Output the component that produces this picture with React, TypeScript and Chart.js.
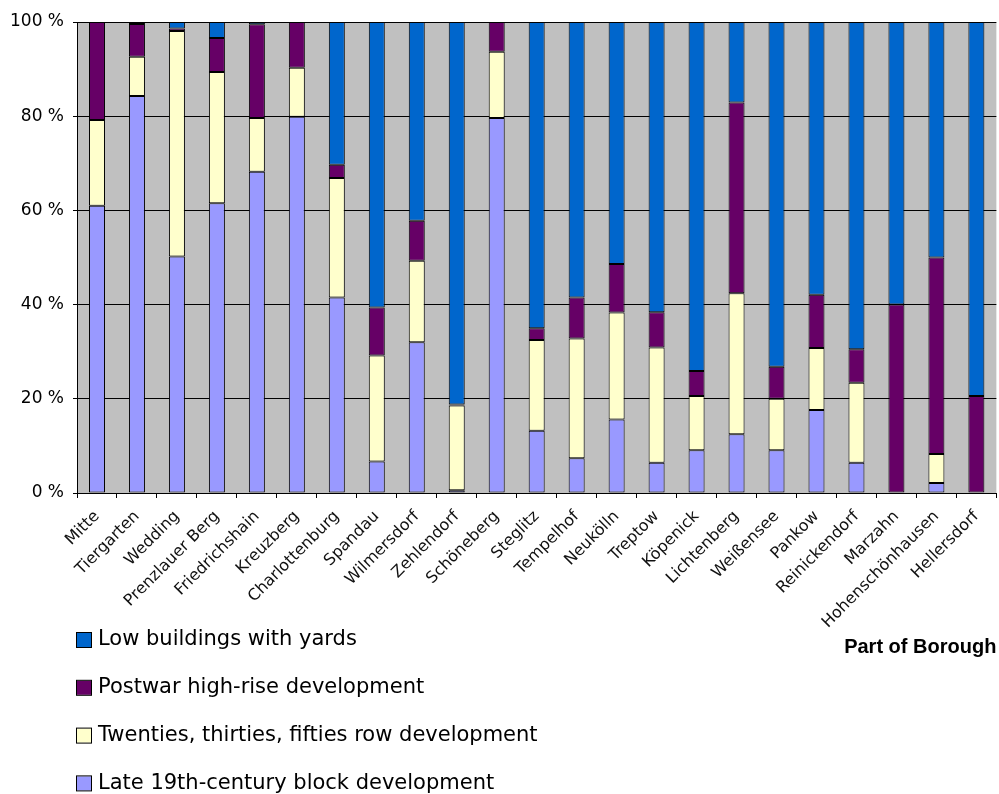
import React, { useEffect, useRef } from "react";
import { Chart, registerables } from "chart.js";

Chart.register(...registerables);

const categories = [
  "Mitte", "Tiergarten", "Wedding", "Prenzlauer Berg", "Friedrichshain", "Kreuzberg",
  "Charlottenburg", "Spandau", "Wilmersdorf", "Zehlendorf", "Schöneberg", "Steglitz",
  "Tempelhof", "Neukölln", "Treptow", "Köpenick", "Lichtenberg", "Weißensee", "Pankow",
  "Reinickendorf", "Marzahn", "Hohenschönhausen", "Hellersdorf",
];

const late19 = [61, 84.3, 50.2, 61.5, 68.2, 79.9, 41.5, 6.7, 32, 0.6, 79.6, 13.2, 7.4, 15.6, 6.4, 9.1, 12.5, 9.1, 17.6, 6.4, 0, 2.1, 0];
const twenties = [18.2, 8.3, 47.9, 27.9, 11.4, 10.4, 25.4, 22.5, 17.3, 18, 14.1, 19.3, 25.4, 22.7, 24.5, 11.5, 29.9, 10.9, 13.2, 17, 0, 6.2, 0];
const postwar = [20.8, 7, 0.5, 7.2, 19.9, 9.7, 2.8, 10.2, 8.5, 0.2, 6.3, 2.5, 8.7, 10.3, 7.5, 5.3, 40.5, 6.8, 11.3, 7.1, 40, 41.7, 20.6];
const low = [0, 0.4, 1.4, 3.4, 0.5, 0, 30.3, 60.6, 42.2, 81.2, 0, 65, 58.5, 51.4, 61.6, 74.1, 17.1, 73.2, 57.9, 69.5, 60, 50, 79.4];

const seriesLabels = [
  "Late 19th-century block development",
  "Twenties, thirties, fifties row development",
  "Postwar high-rise development",
  "Low buildings with yards",
];
const seriesColors = ["#9999FF", "#FFFFCC", "#660066", "#0066CC"];
const xTitle = "Part of Borough";
const yMax = 100;
const yStep = 20;

const plotBg = {
  id: "plotBg",
  beforeDraw(chart: any) {
    const { ctx, chartArea } = chart;
    ctx.save();
    ctx.fillStyle = "#C0C0C0";
    ctx.fillRect(chartArea.left, chartArea.top, chartArea.right - chartArea.left, chartArea.bottom - chartArea.top);
    ctx.restore();
  },
};

const vLegend = {
  id: "vLegend",
  afterDraw(chart: any) {
    const { ctx } = chart;
    const ds = chart.data.datasets.slice().reverse();
    ctx.save();
    ctx.font = '21px "DejaVu Sans"';
    ctx.textBaseline = "middle";
    ctx.textAlign = "left";
    ds.forEach((d: any, i: number) => {
      const y = 640 + i * 47.8;
      ctx.fillStyle = d.backgroundColor;
      ctx.fillRect(77, y - 7, 14, 14);
      ctx.strokeStyle = "#000";
      ctx.lineWidth = 1;
      ctx.strokeRect(76.5, y - 7.5, 15, 15);
      ctx.fillStyle = "#000";
      ctx.fillText(d.label, 98, y);
    });
    ctx.restore();
  },
};

export default function App() {
  const ref = useRef<HTMLCanvasElement | null>(null);
  useEffect(() => {
    if (!ref.current) return;
    const values = [late19, twenties, postwar, low];
    const chart = new Chart(ref.current, {
      type: "bar",
      data: {
        labels: categories,
        datasets: values.map((v, i) => ({
          label: seriesLabels[i],
          data: v,
          backgroundColor: seriesColors[i],
          borderColor: "#000",
          borderWidth: 1,
          borderSkipped: false,
          barPercentage: 0.4,
          categoryPercentage: 1,
        })),
      },
      options: {
        responsive: false,
        animation: false,
        layout: { padding: { top: 22, right: 2, bottom: 135, left: 0 } },
        plugins: {
          legend: { display: false },
          tooltip: { enabled: false },
        },
        scales: {
          x: {
            stacked: true,
            afterFit: (s: any) => { s.height = 166; },
            grid: { display: true, drawOnChartArea: false, color: "#000", tickLength: 5, offset: true },
            border: { display: true, color: "#000", width: 1 },
            ticks: {
              color: "#111",
              font: { family: '"DejaVu Sans"', size: 16 },
              maxRotation: 45,
              minRotation: 45,
              autoSkip: false,
              padding: 9,
            },
            title: {
              display: true,
              text: xTitle,
              align: "end",
              color: "#000",
              font: { family: '"Liberation Sans", Arial', size: 20, weight: "bold" },
              padding: 0,
            },
          },
          y: {
            stacked: true,
            min: 0,
            max: yMax,
            afterFit: (s: any) => { s.width = 77; },
            grid: { color: "#000", lineWidth: 1, tickLength: 4 },
            border: { display: true, color: "#000", width: 1 },
            ticks: {
              stepSize: yStep,
              color: "#000",
              font: { family: '"DejaVu Sans"', size: 17 },
              padding: 9,
              callback: (v: any) => `${v} %`,
            },
          },
        },
      },
      plugins: [plotBg, vLegend],
    });
    return () => chart.destroy();
  }, []);
  return (
    <div style={{ position: "absolute", left: 0, top: 0, width: 999, height: 794, background: "#fff" }}>
      <canvas ref={ref} width={999} height={794} style={{ display: "block" }} />
    </div>
  );
}
